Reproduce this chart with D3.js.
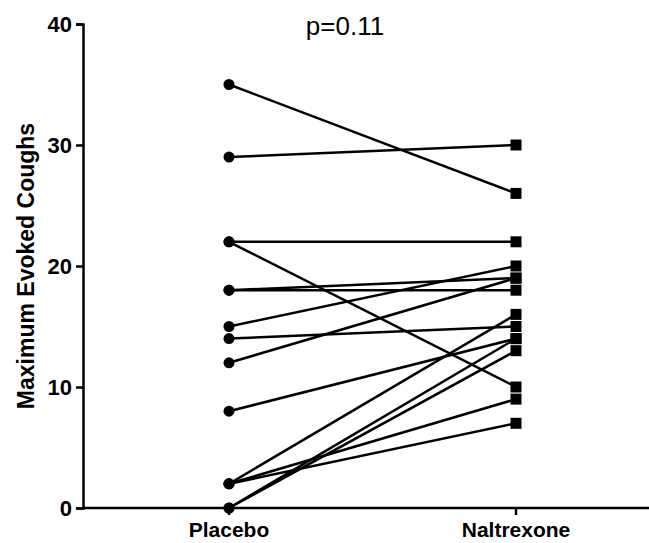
<!DOCTYPE html>
<html>
<head>
<meta charset="utf-8">
<script src="https://cdn.jsdelivr.net/npm/d3@7"></script>
<style>
body { margin:0; background:#fff; }
text { font-family: "Liberation Sans", Arial, sans-serif; }
</style>
</head>
<body>
<div id="plot"></div>
<script>
/* paired values, one entry per subject */
var groups = ['Placebo', 'Naltrexone'];
var placebo    = [35, 29, 22, 22, 18, 18, 15, 14, 12, 8, 2, 2, 2, 0, 0];
var naltrexone = [26, 30, 22, 10, 18, 19, 20, 15, 19, 14, 16, 9, 7, 14, 13];
var yTicks = [0, 10, 20, 30, 40];
var title = 'p=0.11';
var yTitle = 'Maximum Evoked Coughs';

var W = 649, H = 543;
var margin = {t:24, r:0, b:35, l:83};

var svg = d3.select('#plot')
	.append('svg')
	.attr('width', W)
	.attr('height', H);

var x = d3.scalePoint()
	.domain(groups)
	.range([229, 516]);

var y = d3.scaleLinear()
	.domain([0, 40])
	.range([H - margin.b, margin.t]);

// y axis
var yAxis = svg.append('g')
	.attr('transform', 'translate(' + margin.l + ',0)')
	.call(d3.axisLeft(y).tickValues(yTicks).tickSize(7).tickPadding(4));
yAxis.select('.domain').attr('stroke-width', 2.5);
yAxis.selectAll('.tick line').attr('stroke-width', 2.5);
yAxis.selectAll('.tick text')
	.style('font-size', '22px')
	.style('font-weight', 'bold')
	.attr('fill', '#000');

// x axis
var xAxis = svg.append('g')
	.attr('transform', 'translate(0,' + y(0) + ')');
xAxis.append('line')
	.attr('x1', margin.l).attr('x2', W)
	.attr('stroke', '#000').attr('stroke-width', 2.5);
xAxis.selectAll('.xtick')
	.data(groups)
	.enter()
	.append('line')
	.attr('x1', function (d) {return x(d);})
	.attr('x2', function (d) {return x(d);})
	.attr('y1', 0).attr('y2', 7)
	.attr('stroke', '#000').attr('stroke-width', 2.5);
xAxis.selectAll('.xlabel')
	.data(groups)
	.enter()
	.append('text')
	.attr('x', function (d) {return x(d);})
	.attr('y', 29)
	.attr('text-anchor', 'middle')
	.style('font-size', '21px')
	.style('font-weight', 'bold')
	.text(function (d) {return d;});

// paired lines
var pairs = placebo.map(function (p, i) {return [p, naltrexone[i]];});

svg.selectAll('.pair')
	.data(pairs)
	.enter()
	.append('line')
	.attr('class', 'pair')
	.attr('x1', x(groups[0]))
	.attr('x2', x(groups[1]))
	.attr('y1', function (d) {return y(d[0]);})
	.attr('y2', function (d) {return y(d[1]);})
	.attr('stroke', '#000')
	.attr('stroke-width', 2.5);

svg.selectAll('.dot')
	.data(placebo)
	.enter()
	.append('circle')
	.attr('class', 'dot')
	.attr('cx', x(groups[0]))
	.attr('cy', function (d) {return y(d);})
	.attr('r', 5.5)
	.attr('fill', '#000');

var s = 11;
svg.selectAll('.sq')
	.data(naltrexone)
	.enter()
	.append('rect')
	.attr('class', 'sq')
	.attr('x', x(groups[1]) - s / 2)
	.attr('y', function (d) {return y(d) - s / 2;})
	.attr('width', s)
	.attr('height', s)
	.attr('fill', '#000');

// titles
svg.append('text')
	.attr('x', 345)
	.attr('y', 35)
	.attr('text-anchor', 'middle')
	.style('font-size', '26px')
	.text(title);

svg.append('text')
	.attr('transform', 'translate(34,' + y(20) + ') rotate(-90)')
	.attr('text-anchor', 'middle')
	.style('font-size', '23px')
	.style('font-weight', 'bold')
	.text(yTitle);
</script>
</body>
</html>
